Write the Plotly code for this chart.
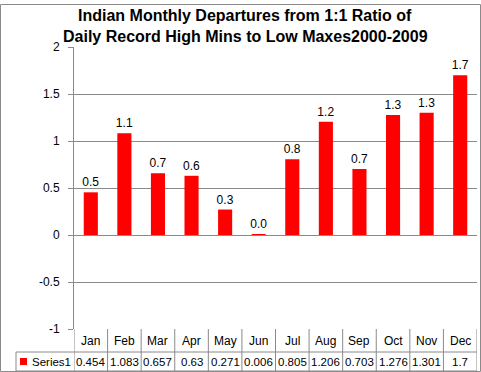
import plotly.graph_objects as go

months = ["Jan", "Feb", "Mar", "Apr", "May", "Jun", "Jul", "Aug", "Sep", "Oct", "Nov", "Dec"]
series1 = [0.454, 1.083, 0.657, 0.63, 0.271, 0.006, 0.805, 1.206, 0.703, 1.276, 1.301, 1.7]
value_labels = ["0.454", "1.083", "0.657", "0.63", "0.271", "0.006", "0.805", "1.206", "0.703", "1.276", "1.301", "1.7"]
series_name = "Series1"
y_ticks = [-1, -0.5, 0, 0.5, 1, 1.5, 2]
y_tick_labels = ["-1", "-0.5", "0", "0.5", "1", "1.5", "2"]
title_lines = ["Indian Monthly Departures from 1:1 Ratio of", "Daily Record High Mins to Low Maxes2000-2009"]

W, H = 481, 372
L, R, T, B = 74, 4, 47, 43
pw, ph = W - L - R, H - T - B

def px2paper_x(p):
    return (p - L) / pw

def px2paper_y(p):
    return (H - B - p) / ph

FONT = "Liberation Sans"
GRID = "#8a8a8a"

fig = go.Figure()
fig.add_trace(go.Bar(
    x=list(range(len(months))), y=series1, name=series_name,
    marker=dict(color="#ff0000", line=dict(width=0)),
    texttemplate="%{y:.1f}", textposition="outside", constraintext="none",
    textfont=dict(family=FONT, size=12, color="#000000"),
    cliponaxis=False, hoverinfo="skip",
))

shapes = []
line_style = dict(color=GRID, width=1)
y_top_row = px2paper_y(329)
y_mid_row = px2paper_y(352)
y_bot_row = px2paper_y(371)
x_leg_left = px2paper_x(16)

shapes.append(dict(type="line", xref="paper", yref="paper", x0=x_leg_left, x1=1, y0=y_mid_row, y1=y_mid_row, line=line_style))
shapes.append(dict(type="line", xref="paper", yref="paper", x0=x_leg_left, x1=1, y0=y_bot_row, y1=y_bot_row, line=line_style))
for i in range(len(months) + 1):
    shapes.append(dict(type="line", xref="x", yref="paper", x0=i - 0.5, x1=i - 0.5, y0=y_bot_row, y1=y_top_row, line=line_style))
shapes.append(dict(type="line", xref="paper", yref="paper", x0=x_leg_left, x1=x_leg_left, y0=y_bot_row, y1=y_mid_row, line=line_style))
shapes.append(dict(type="rect", xref="paper", yref="paper", x0=px2paper_x(20), x1=px2paper_x(27), y0=px2paper_y(365), y1=px2paper_y(358), fillcolor="#ff0000", line=dict(width=0)))
shapes.append(dict(type="rect", xref="paper", yref="paper", x0=px2paper_x(0.5), x1=px2paper_x(480.5), y0=px2paper_y(371.5), y1=px2paper_y(4.5), line=dict(color=GRID, width=1), layer="below"))

annotations = []
for i, m in enumerate(months):
    annotations.append(dict(x=i, y=(y_top_row + y_mid_row) / 2, xref="x", yref="paper", text=m, showarrow=False,
                            font=dict(family=FONT, size=12, color="#000000"), xanchor="center", yanchor="middle"))
    annotations.append(dict(x=i, y=(y_mid_row + y_bot_row) / 2, xref="x", yref="paper", text=value_labels[i], showarrow=False,
                            font=dict(family=FONT, size=11.5, color="#000000"), xanchor="center", yanchor="middle"))
annotations.append(dict(x=px2paper_x(30), y=(y_mid_row + y_bot_row) / 2, xref="paper", yref="paper", text=series_name, showarrow=False,
                        font=dict(family=FONT, size=11.5, color="#000000"), xanchor="left", yanchor="middle"))
for k, t in enumerate(title_lines):
    annotations.append(dict(x=px2paper_x(245), y=px2paper_y(15 + 21 * k), xref="paper", yref="paper", text="<b>" + t + "</b>", showarrow=False,
                            font=dict(family=FONT, size=16, color="#000000"), xanchor="center", yanchor="middle"))

fig.update_layout(
    width=W, height=H,
    margin=dict(l=L, r=R, t=T, b=B, pad=0, autoexpand=False),
    paper_bgcolor="white", plot_bgcolor="white",
    showlegend=False, bargap=0.58,
    shapes=shapes, annotations=annotations,
    xaxis=dict(range=[-0.5, 11.5], showticklabels=False, showgrid=False, zeroline=False, showline=False, ticks="", automargin=False),
    yaxis=dict(range=[-1, 2], tickvals=y_ticks, ticktext=y_tick_labels, showgrid=True, gridcolor=GRID, gridwidth=1,
               zeroline=False, showline=True, linecolor=GRID, linewidth=1, automargin=False,
               ticks="outside", ticklen=5, tickcolor=GRID, ticklabelstandoff=6,
               tickfont=dict(family=FONT, size=12, color="#000000")),
)
fig.write_html("out.html", config={"displayModeBar": False},
               post_script="document.body.style.margin='0';document.body.style.padding='0';")
